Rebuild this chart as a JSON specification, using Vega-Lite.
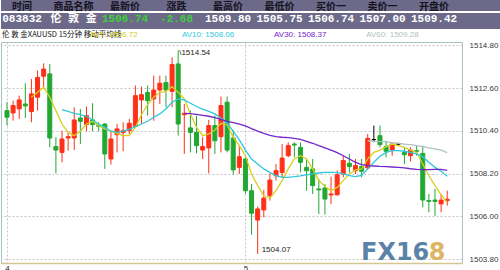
{
  "$schema": "https://vega.github.io/schema/vega-lite/v6.json",
  "padding": 0,
  "spacing": 0,
  "background": "#ffffff",
  "datasets": {
    "quote": [
      {"col": "时间", "val": "083832"},
      {"col": "商品名称", "val": "伦 敦 金"},
      {"col": "最新价", "val": "1506.74"},
      {"col": "涨跌", "val": "-2.68"},
      {"col": "最高价", "val": "1509.80"},
      {"col": "最低价", "val": "1505.75"},
      {"col": "买价一", "val": "1506.74"},
      {"col": "卖价一", "val": "1507.00"},
      {"col": "开盘价", "val": "1509.42"}
    ],
    "avrow": [
      {"seg": "title", "txt": "伦 敦 金XAUUSD 15分钟 移动平均线"},
      {"seg": "AV5", "txt": "AV5: 1506.72"},
      {"seg": "AV10", "txt": "AV10: 1508.06"},
      {"seg": "AV30", "txt": "AV30: 1508.37"},
      {"seg": "AV60", "txt": "AV60: 1509.28"}
    ],
    "candles": [
      {"i":0,"o":1511.44,"h":1511.87,"l":1510.67,"c":1511.10},
      {"i":1,"o":1511.32,"h":1511.95,"l":1510.92,"c":1511.70},
      {"i":2,"o":1511.53,"h":1512.21,"l":1511.01,"c":1511.99},
      {"i":3,"o":1511.78,"h":1512.85,"l":1511.06,"c":1511.68},
      {"i":4,"o":1511.39,"h":1513.07,"l":1510.84,"c":1512.30,"a5":1512.13},
      {"i":5,"o":1512.13,"h":1513.50,"l":1511.44,"c":1513.15,"a5":1512.38},
      {"i":6,"o":1513.21,"h":1513.87,"l":1512.64,"c":1513.58,"a5":1512.64},
      {"i":7,"o":1513.33,"h":1513.84,"l":1509.55,"c":1510.03,"a5":1512.13},
      {"i":8,"o":1509.59,"h":1510.07,"l":1508.21,"c":1509.41,"a5":1511.44},
      {"i":9,"o":1509.29,"h":1510.41,"l":1508.78,"c":1509.98,"a5":1510.75,"a10":1511.49},
      {"i":10,"o":1510.03,"h":1510.32,"l":1509.38,"c":1510.10,"a5":1510.32,"a10":1511.40},
      {"i":11,"o":1510.03,"h":1511.61,"l":1509.41,"c":1510.96,"a5":1510.15,"a10":1511.30},
      {"i":12,"o":1511.06,"h":1511.53,"l":1509.72,"c":1510.89,"a5":1510.38,"a10":1511.23},
      {"i":13,"o":1510.72,"h":1511.65,"l":1510.38,"c":1511.18,"a5":1510.75,"a10":1511.15},
      {"i":14,"o":1510.96,"h":1511.82,"l":1510.38,"c":1510.72,"a5":1510.89,"a10":1510.96},
      {"i":15,"o":1510.68,"h":1510.84,"l":1510.38,"c":1510.63,"a5":1510.67,"a10":1510.75},
      {"i":16,"o":1510.75,"h":1510.80,"l":1508.44,"c":1509.21,"a5":1510.50,"a10":1510.58},
      {"i":17,"o":1508.95,"h":1510.38,"l":1508.66,"c":1509.98,"a5":1510.38,"a10":1510.38},
      {"i":18,"o":1510.20,"h":1510.75,"l":1509.29,"c":1510.50,"a5":1510.27,"a10":1510.32},
      {"i":19,"o":1510.31,"h":1510.84,"l":1509.35,"c":1510.41,"a5":1510.15,"a10":1510.38},
      {"i":20,"o":1510.41,"h":1511.01,"l":1510.24,"c":1510.79,"a5":1510.15,"a10":1510.48},
      {"i":21,"o":1510.62,"h":1512.73,"l":1510.58,"c":1512.21,"a5":1510.58,"a10":1510.62},
      {"i":22,"o":1511.99,"h":1512.67,"l":1510.75,"c":1512.26,"a5":1511.23,"a10":1510.75},
      {"i":23,"o":1512.38,"h":1512.73,"l":1511.18,"c":1511.95,"a5":1511.75,"a10":1510.89},
      {"i":24,"o":1512.04,"h":1513.24,"l":1510.92,"c":1512.50,"a5":1512.13,"a10":1511.10},
      {"i":25,"o":1512.50,"h":1513.24,"l":1511.78,"c":1512.85,"a5":1512.38,"a10":1511.27},
      {"i":26,"o":1512.88,"h":1513.24,"l":1511.61,"c":1512.50,"a5":1512.43,"a10":1511.52},
      {"i":27,"o":1512.43,"h":1514.18,"l":1511.61,"c":1513.81,"a5":1512.67,"a10":1511.87},
      {"i":28,"o":1513.84,"h":1514.54,"l":1510.15,"c":1510.75,"a5":1512.38,"a10":1512.04},
      {"i":29,"o":1511.23,"h":1511.78,"l":1509.21,"c":1511.30,"a5":1512.04,"a10":1511.99,"a30":1511.30},
      {"i":30,"o":1510.55,"h":1511.44,"l":1509.29,"c":1510.32,"a5":1511.27,"a10":1511.82,"a30":1511.28},
      {"i":31,"o":1510.32,"h":1511.18,"l":1509.24,"c":1509.64,"a5":1510.58,"a10":1511.65,"a30":1511.25},
      {"i":32,"o":1509.41,"h":1510.07,"l":1508.95,"c":1509.59,"a5":1510.15,"a10":1511.52,"a30":1511.20},
      {"i":33,"o":1509.52,"h":1510.96,"l":1508.21,"c":1510.67,"a5":1510.24,"a10":1511.40,"a30":1511.15},
      {"i":34,"o":1510.67,"h":1511.18,"l":1509.21,"c":1509.89,"a5":1510.44,"a10":1511.27,"a30":1511.08},
      {"i":35,"o":1510.10,"h":1512.16,"l":1509.29,"c":1511.70,"a5":1510.79,"a10":1511.06,"a30":1510.99},
      {"i":36,"o":1511.87,"h":1512.16,"l":1509.29,"c":1509.41,"a5":1510.72,"a10":1510.79,"a30":1510.89},
      {"i":37,"o":1510.03,"h":1510.44,"l":1508.15,"c":1508.39,"a5":1510.07,"a10":1510.38,"a30":1510.82},
      {"i":38,"o":1508.52,"h":1509.64,"l":1508.18,"c":1509.07,"a5":1509.64,"a10":1509.93,"a30":1510.75},
      {"i":39,"o":1508.95,"h":1509.12,"l":1507.15,"c":1507.32,"a5":1509.12,"a10":1509.41,"a30":1510.65},
      {"i":40,"o":1507.32,"h":1507.66,"l":1505.06,"c":1506.16,"a5":1508.18,"a10":1508.95,"a30":1510.51},
      {"i":41,"o":1505.81,"h":1506.50,"l":1504.07,"c":1506.38,"a5":1507.58,"a10":1508.69,"a30":1510.38},
      {"i":42,"o":1506.33,"h":1507.36,"l":1505.95,"c":1506.94,"a5":1507.06,"a10":1508.44,"a30":1510.27},
      {"i":43,"o":1507.06,"h":1508.21,"l":1506.81,"c":1507.87,"a5":1506.94,"a10":1508.26,"a30":1510.17},
      {"i":44,"o":1508.09,"h":1508.69,"l":1507.84,"c":1508.35,"a5":1507.32,"a10":1508.09,"a30":1510.10},
      {"i":45,"o":1508.26,"h":1509.72,"l":1508.01,"c":1509.00,"a5":1507.84,"a10":1508.01,"a30":1510.07},
      {"i":46,"o":1509.12,"h":1509.81,"l":1509.04,"c":1509.64,"a5":1508.44,"a10":1508.01,"a30":1510.05},
      {"i":47,"o":1509.72,"h":1509.81,"l":1509.04,"c":1509.67,"a5":1508.95,"a10":1508.04,"a30":1510.01},
      {"i":48,"o":1509.55,"h":1509.81,"l":1508.26,"c":1508.78,"a5":1509.12,"a10":1508.08,"a30":1509.96},
      {"i":49,"o":1508.52,"h":1508.95,"l":1507.32,"c":1508.35,"a5":1508.95,"a10":1508.13,"a30":1509.86},
      {"i":50,"o":1508.44,"h":1508.95,"l":1507.15,"c":1507.58,"a5":1508.44,"a10":1508.18,"a30":1509.76},
      {"i":51,"o":1507.41,"h":1507.92,"l":1506.12,"c":1507.36,"a5":1507.84,"a10":1508.23,"a30":1509.64},
      {"i":52,"o":1507.46,"h":1507.66,"l":1506.09,"c":1506.89,"a5":1507.53,"a10":1508.26,"a30":1509.52},
      {"i":53,"o":1507.10,"h":1508.04,"l":1506.63,"c":1507.15,"a5":1507.32,"a10":1508.26,"a30":1509.41},
      {"i":54,"o":1507.11,"h":1508.35,"l":1507.06,"c":1508.14,"a5":1507.49,"a10":1508.25,"a30":1509.28},
      {"i":55,"o":1508.18,"h":1509.12,"l":1508.01,"c":1508.87,"a5":1507.84,"a10":1508.18,"a30":1509.12},
      {"i":56,"o":1508.73,"h":1509.21,"l":1508.26,"c":1508.56,"a5":1508.18,"a10":1508.09,"a30":1508.95},
      {"i":57,"o":1508.35,"h":1508.95,"l":1508.18,"c":1508.61,"a5":1508.39,"a10":1508.04,"a30":1508.78},
      {"i":58,"o":1508.56,"h":1508.95,"l":1508.01,"c":1508.32,"a5":1508.44,"a10":1508.11,"a30":1508.66},
      {"i":59,"o":1508.49,"h":1510.24,"l":1508.44,"c":1510.01,"a5":1508.95,"a10":1508.44,"a30":1508.61,"a60":1509.89},
      {"i":60,"o":1509.95,"h":1510.67,"l":1509.81,"c":1509.95,"a5":1509.29,"a10":1508.78,"a30":1508.59,"a60":1509.86},
      {"i":61,"o":1510.15,"h":1510.67,"l":1509.55,"c":1509.69,"a5":1509.41,"a10":1509.09,"a30":1508.57,"a60":1509.84},
      {"i":62,"o":1509.59,"h":1509.89,"l":1509.04,"c":1509.35,"a5":1509.59,"a10":1509.29,"a30":1508.56,"a60":1509.83},
      {"i":63,"o":1509.41,"h":1509.81,"l":1509.12,"c":1509.72,"a5":1509.72,"a10":1509.38,"a30":1508.54,"a60":1509.79},
      {"i":64,"o":1509.72,"h":1509.76,"l":1509.67,"c":1509.72,"a5":1509.64,"a10":1509.38,"a30":1508.52,"a60":1509.76},
      {"i":65,"o":1509.29,"h":1509.55,"l":1508.69,"c":1509.17,"a5":1509.55,"a10":1509.35,"a30":1508.49,"a60":1509.72},
      {"i":66,"o":1509.12,"h":1509.55,"l":1508.83,"c":1509.41,"a5":1509.41,"a10":1509.29,"a30":1508.45,"a60":1509.69},
      {"i":67,"o":1509.38,"h":1509.64,"l":1509.12,"c":1509.35,"a5":1509.29,"a10":1509.21,"a30":1508.42,"a60":1509.64},
      {"i":68,"o":1509.24,"h":1509.64,"l":1506.46,"c":1506.84,"a5":1508.69,"a10":1509.07,"a30":1508.40,"a60":1509.59},
      {"i":69,"o":1506.81,"h":1507.15,"l":1506.21,"c":1506.77,"a5":1508.09,"a10":1508.78,"a30":1508.40,"a60":1509.52},
      {"i":70,"o":1506.84,"h":1507.41,"l":1506.03,"c":1506.77,"a5":1507.58,"a10":1508.52,"a30":1508.42,"a60":1509.47},
      {"i":71,"o":1506.64,"h":1507.15,"l":1506.21,"c":1506.84,"a5":1507.11,"a10":1508.32,"a30":1508.42,"a60":1509.41},
      {"i":72,"o":1506.81,"h":1507.32,"l":1506.55,"c":1506.88,"a5":1506.72,"a10":1508.06,"a30":1508.37,"a60":1509.28}
    ],
    "notes": [
      {"i": 28, "p": 1514.54, "t": "\\1514.54", "kind": "high"},
      {"i": 41, "p": 1504.07, "t": "1504.07", "kind": "low"}
    ],
    "logo": [
      {"i": 57.9, "p": 1503.75, "t": "FX16"},
      {"i": 68.96, "p": 1503.75, "t": "8"}
    ]
  },
  "vconcat": [
    {
      "width": 500,
      "height": 11,
      "view": {"fill": "#6c6989", "stroke": null},
      "data": {"name": "quote"},
      "mark": {"type": "text", "font": "Noto Sans CJK SC", "fontSize": 10, "fontWeight": "bold", "color": "#15131f", "dy": 1},
      "encoding": {
        "x": {"field": "col", "type": "nominal", "sort": null, "axis": null,
              "scale": {"type": "point", "padding": 0.854, "align": 0.239}},
        "text": {"field": "col"}
      }
    },
    {
      "width": 500,
      "height": 16,
      "view": {"fill": "#6c6989", "stroke": null},
      "data": {"name": "quote"},
      "mark": {"type": "text", "font": "Liberation Mono, Noto Sans CJK SC", "fontSize": 11, "fontWeight": "bold", "dy": -2.5},
      "encoding": {
        "x": {"field": "col", "type": "nominal", "sort": null, "axis": null,
              "scale": {"type": "point", "padding": 0.854, "align": 0.239}},
        "text": {"field": "val"},
        "color": {"condition": {"test": "datum.col == '最新价' || datum.col == '涨跌'", "value": "#3ccf3c"}, "value": "#ffffff"}
      }
    },
    {
      "width": 461,
      "height": 11,
      "view": {"fill": "#ffffff", "stroke": null},
      "data": {"name": "avrow"},
      "layer": [
        {
          "transform": [{"filter": "datum.seg == 'title'"}],
          "mark": {"type": "text", "align": "left", "dx": 1, "font": "Noto Sans CJK SC", "fontSize": 7.5, "color": "#111111"},
          "encoding": {
            "x": {"field": "seg", "type": "nominal", "axis": null, "scale": {"type": "point", "padding": 0, "align": 0}},
            "text": {"field": "txt"}
          }
        },
        {
          "transform": [{"filter": "datum.seg != 'title'"}],
          "mark": {"type": "text", "align": "left", "font": "Liberation Sans", "fontSize": 8},
          "encoding": {
            "x": {"field": "seg", "type": "nominal", "sort": null, "axis": null,
                  "scale": {"type": "point", "padding": 2.43, "align": 0.481}},
            "text": {"field": "txt"},
            "color": {"field": "seg", "type": "nominal", "legend": null,
                      "scale": {"domain": ["AV5", "AV10", "AV30", "AV60"], "range": ["#d8cf20", "#2ec8de", "#7426cc", "#b2c2c2"]}}
          }
        }
      ],
      "resolve": {"scale": {"x": "independent"}}
    },
    {
      "width": 461,
      "height": 221,
      "view": {"stroke": "#a9c3c3", "fill": "#ffffff"},
      "layer": [
        {
          "data": {"name": "candles"},
          "mark": {"type": "rule", "strokeWidth": 1, "clip": true},
          "encoding": {
            "x": {"field": "i", "type": "quantitative",
                  "scale": {"domain": [-0.16, 73.6], "nice": false, "zero": false},
                  "axis": {"orient": "bottom", "title": null, "values": [0, 39],
                           "labelExpr": "datum.value == 0 ? '4' : '5'",
                           "grid": true, "gridColor": "#c4c4c4", "gridDash": [2, 2],
                           "domain": true, "domainColor": "#d4c690", "domainWidth": 1.5,
                           "ticks": false, "labelPadding": 1, "labelFontSize": 8,
                           "labelColor": "#222222", "labelFlush": 3, "labelFont": "Liberation Sans"}},
            "y": {"field": "l", "type": "quantitative",
                  "scale": {"domain": [1503.6, 1514.97], "nice": false, "zero": false},
                  "axis": {"orient": "right", "title": null,
                           "values": [1503.8, 1504.9, 1506.0, 1507.1, 1508.2, 1509.3, 1510.4, 1511.5, 1512.6, 1513.7, 1514.8],
                           "format": ".2f", "grid": true, "gridColor": "#c4c4c4", "gridDash": [2, 2],
                           "domain": false, "ticks": false, "labelPadding": 7, "labelFontSize": 8,
                           "labelColor": "#3a3a3a", "labelFont": "Liberation Sans"}},
            "y2": {"field": "h"},
            "stroke": {"condition": [{"test": "datum.c > datum.o", "value": "#ff3018"}, {"test": "datum.c == datum.o", "value": "#000000"}], "value": "#22a832"}
          }
        },
        {
          "data": {"name": "candles"},
          "mark": {"type": "bar", "width": 4, "strokeWidth": 1, "clip": true},
          "encoding": {
            "x": {"field": "i", "type": "quantitative"},
            "y": {"field": "o", "type": "quantitative"},
            "y2": {"field": "c"},
            "fill": {"condition": [{"test": "datum.c > datum.o", "value": "#ff3018"}, {"test": "datum.c == datum.o", "value": "#000000"}], "value": "#22a832"},
            "stroke": {"condition": [{"test": "datum.c > datum.o", "value": "#ff3018"}, {"test": "datum.c == datum.o", "value": "#000000"}], "value": "#22a832"}
          }
        },
        {
          "data": {"name": "candles"},
          "transform": [{"fold": ["a5", "a10", "a30", "a60"], "as": ["ma", "v"]}],
          "mark": {"type": "line", "strokeWidth": 1.3, "clip": true},
          "encoding": {
            "x": {"field": "i", "type": "quantitative"},
            "y": {"field": "v", "type": "quantitative"},
            "color": {
              "field": "ma", "type": "nominal", "legend": null,
              "scale": {"domain": ["a5", "a10", "a30", "a60"], "range": ["#e2d81e", "#3dd6e6", "#7426cc", "#b6cccc"]}
            }
          }
        },
        {
          "data": {"name": "notes"},
          "transform": [{"filter": "datum.kind == 'high'"}],
          "mark": {"type": "text", "align": "left", "baseline": "top", "dx": 1, "dy": -1, "fontSize": 8, "font": "Liberation Sans", "color": "#222222"},
          "encoding": {
            "x": {"field": "i", "type": "quantitative"},
            "y": {"field": "p", "type": "quantitative"},
            "text": {"field": "t"}
          }
        },
        {
          "data": {"name": "notes"},
          "transform": [{"filter": "datum.kind == 'low'"}],
          "mark": {"type": "text", "align": "left", "baseline": "bottom", "dx": 4, "dy": 0, "fontSize": 8, "font": "Liberation Sans", "color": "#222222"},
          "encoding": {
            "x": {"field": "i", "type": "quantitative"},
            "y": {"field": "p", "type": "quantitative"},
            "text": {"field": "t"}
          }
        },
        {
          "data": {"name": "logo"},
          "mark": {"type": "text", "align": "left", "baseline": "alphabetic", "fontSize": 24, "fontWeight": "bold", "font": "DejaVu Sans", "opacity": 0.85},
          "encoding": {
            "x": {"field": "i", "type": "quantitative"},
            "y": {"field": "p", "type": "quantitative"},
            "text": {"field": "t"},
            "color": {"condition": {"test": "datum.t == '8'", "value": "#d9a94c"}, "value": "#3f6e98"}
          }
        }
      ]
    }
  ],
  "config": {
    "font": "Liberation Sans",
    "view": {"stroke": null}
  }
}
